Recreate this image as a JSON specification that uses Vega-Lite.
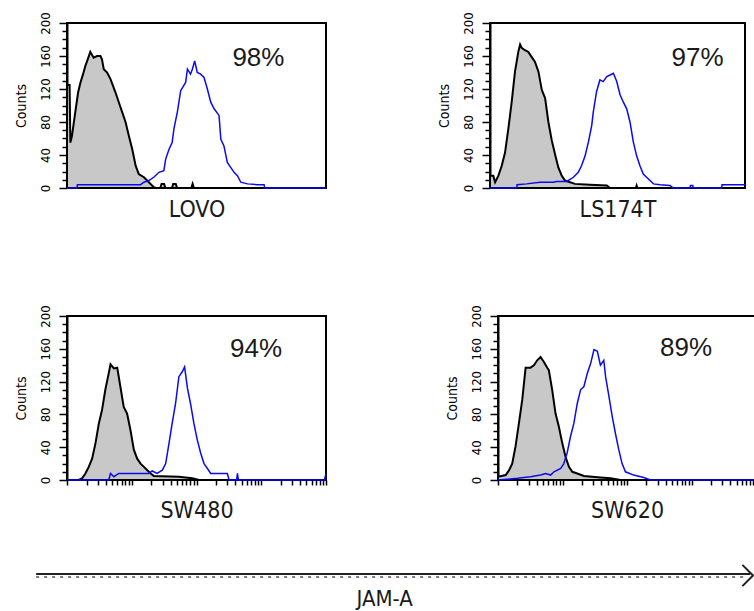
{
"$schema": "https://vega.github.io/schema/vega-lite/v6.json",
"background": "white",
"padding": {"left": 12, "top": 10, "right": 0, "bottom": 0},
"config": {
  "view": {"stroke": "#000", "strokeWidth": 2},
  "axis": {"grid": false, "labelOverlap": false, "labelBound": false, "tickCount": 100,
           "titleFont": "DejaVu Sans Condensed, Liberation Sans", "titleFontWeight": "normal", "labelFont": "DejaVu Sans Condensed, Liberation Sans"},
  "text": {"font": "Liberation Sans"}
},
"datasets": {
 "hist": [
  {"cell":"LOVO","series":"isotype","x":0,"count":125},{"cell":"LOVO","series":"isotype","x":1,"count":125},{"cell":"LOVO","series":"isotype","x":1.3,"count":55},{"cell":"LOVO","series":"isotype","x":1.9,"count":63},{"cell":"LOVO","series":"isotype","x":3.2,"count":92},{"cell":"LOVO","series":"isotype","x":4.3,"count":116},{"cell":"LOVO","series":"isotype","x":5.2,"count":128},{"cell":"LOVO","series":"isotype","x":6.2,"count":138},{"cell":"LOVO","series":"isotype","x":7.1,"count":148},{"cell":"LOVO","series":"isotype","x":8.0,"count":156},{"cell":"LOVO","series":"isotype","x":9.0,"count":165},{"cell":"LOVO","series":"isotype","x":10.3,"count":158},{"cell":"LOVO","series":"isotype","x":11.6,"count":160},{"cell":"LOVO","series":"isotype","x":12.9,"count":160},{"cell":"LOVO","series":"isotype","x":13.5,"count":156},{"cell":"LOVO","series":"isotype","x":14.2,"count":144},{"cell":"LOVO","series":"isotype","x":15.5,"count":140},{"cell":"LOVO","series":"isotype","x":16.8,"count":132},{"cell":"LOVO","series":"isotype","x":18.7,"count":116},{"cell":"LOVO","series":"isotype","x":20.0,"count":104},{"cell":"LOVO","series":"isotype","x":21.3,"count":92},{"cell":"LOVO","series":"isotype","x":22.6,"count":80},{"cell":"LOVO","series":"isotype","x":23.9,"count":63},{"cell":"LOVO","series":"isotype","x":25.2,"count":47},{"cell":"LOVO","series":"isotype","x":26.5,"count":27},{"cell":"LOVO","series":"isotype","x":27.7,"count":17},{"cell":"LOVO","series":"isotype","x":29.7,"count":13},{"cell":"LOVO","series":"isotype","x":31.6,"count":7},{"cell":"LOVO","series":"isotype","x":33.5,"count":1},{"cell":"LOVO","series":"isotype","x":34.5,"count":0},{"cell":"LOVO","series":"isotype","x":36,"count":0},{"cell":"LOVO","series":"isotype","x":36.5,"count":5},{"cell":"LOVO","series":"isotype","x":37.5,"count":5},{"cell":"LOVO","series":"isotype","x":38,"count":0},{"cell":"LOVO","series":"isotype","x":40.5,"count":0},{"cell":"LOVO","series":"isotype","x":41,"count":5},{"cell":"LOVO","series":"isotype","x":42,"count":5},{"cell":"LOVO","series":"isotype","x":42.5,"count":0},{"cell":"LOVO","series":"isotype","x":48,"count":0},{"cell":"LOVO","series":"isotype","x":48.5,"count":5},{"cell":"LOVO","series":"isotype","x":49,"count":0},{"cell":"LOVO","series":"isotype","x":100,"count":0},
  {"cell":"LOVO","series":"JAM-A","x":0,"count":0},{"cell":"LOVO","series":"JAM-A","x":3.9,"count":0},{"cell":"LOVO","series":"JAM-A","x":4.0,"count":4},{"cell":"LOVO","series":"JAM-A","x":28.4,"count":4},{"cell":"LOVO","series":"JAM-A","x":29.7,"count":7},{"cell":"LOVO","series":"JAM-A","x":31.6,"count":9},{"cell":"LOVO","series":"JAM-A","x":33.5,"count":13},{"cell":"LOVO","series":"JAM-A","x":35.5,"count":19},{"cell":"LOVO","series":"JAM-A","x":37.4,"count":21},{"cell":"LOVO","series":"JAM-A","x":38.1,"count":35},{"cell":"LOVO","series":"JAM-A","x":39.4,"count":47},{"cell":"LOVO","series":"JAM-A","x":40.6,"count":55},{"cell":"LOVO","series":"JAM-A","x":41.3,"count":72},{"cell":"LOVO","series":"JAM-A","x":42.6,"count":92},{"cell":"LOVO","series":"JAM-A","x":43.9,"count":118},{"cell":"LOVO","series":"JAM-A","x":45.8,"count":128},{"cell":"LOVO","series":"JAM-A","x":46.5,"count":144},{"cell":"LOVO","series":"JAM-A","x":47.7,"count":138},{"cell":"LOVO","series":"JAM-A","x":48.4,"count":144},{"cell":"LOVO","series":"JAM-A","x":49.3,"count":154},{"cell":"LOVO","series":"JAM-A","x":50.3,"count":140},{"cell":"LOVO","series":"JAM-A","x":51.6,"count":138},{"cell":"LOVO","series":"JAM-A","x":52.9,"count":134},{"cell":"LOVO","series":"JAM-A","x":54.2,"count":120},{"cell":"LOVO","series":"JAM-A","x":55.5,"count":104},{"cell":"LOVO","series":"JAM-A","x":56.8,"count":96},{"cell":"LOVO","series":"JAM-A","x":58.7,"count":88},{"cell":"LOVO","series":"JAM-A","x":59.4,"count":59},{"cell":"LOVO","series":"JAM-A","x":60.6,"count":51},{"cell":"LOVO","series":"JAM-A","x":61.9,"count":31},{"cell":"LOVO","series":"JAM-A","x":63.2,"count":25},{"cell":"LOVO","series":"JAM-A","x":64.5,"count":19},{"cell":"LOVO","series":"JAM-A","x":65.8,"count":15},{"cell":"LOVO","series":"JAM-A","x":67.1,"count":7},{"cell":"LOVO","series":"JAM-A","x":69.7,"count":5},{"cell":"LOVO","series":"JAM-A","x":73.5,"count":4},{"cell":"LOVO","series":"JAM-A","x":76.1,"count":4},{"cell":"LOVO","series":"JAM-A","x":76.3,"count":0},{"cell":"LOVO","series":"JAM-A","x":100,"count":0},
  {"cell":"LS174T","series":"isotype","x":0,"count":15},{"cell":"LS174T","series":"isotype","x":1.3,"count":15},{"cell":"LS174T","series":"isotype","x":2.0,"count":7},{"cell":"LS174T","series":"isotype","x":3.3,"count":15},{"cell":"LS174T","series":"isotype","x":4.6,"count":27},{"cell":"LS174T","series":"isotype","x":5.9,"count":43},{"cell":"LS174T","series":"isotype","x":7.2,"count":72},{"cell":"LS174T","series":"isotype","x":8.5,"count":104},{"cell":"LS174T","series":"isotype","x":9.8,"count":141},{"cell":"LS174T","series":"isotype","x":11.1,"count":165},{"cell":"LS174T","series":"isotype","x":11.8,"count":174},{"cell":"LS174T","series":"isotype","x":12.4,"count":170},{"cell":"LS174T","series":"isotype","x":13.7,"count":167},{"cell":"LS174T","series":"isotype","x":15.0,"count":165},{"cell":"LS174T","series":"isotype","x":16.3,"count":159},{"cell":"LS174T","series":"isotype","x":17.6,"count":153},{"cell":"LS174T","series":"isotype","x":19.0,"count":141},{"cell":"LS174T","series":"isotype","x":20.3,"count":119},{"cell":"LS174T","series":"isotype","x":21.6,"count":109},{"cell":"LS174T","series":"isotype","x":22.9,"count":80},{"cell":"LS174T","series":"isotype","x":24.2,"count":58},{"cell":"LS174T","series":"isotype","x":25.5,"count":41},{"cell":"LS174T","series":"isotype","x":26.8,"count":25},{"cell":"LS174T","series":"isotype","x":28.1,"count":15},{"cell":"LS174T","series":"isotype","x":29.4,"count":9},{"cell":"LS174T","series":"isotype","x":31.4,"count":7},{"cell":"LS174T","series":"isotype","x":33.3,"count":5},{"cell":"LS174T","series":"isotype","x":39.2,"count":4},{"cell":"LS174T","series":"isotype","x":45.8,"count":3},{"cell":"LS174T","series":"isotype","x":47.1,"count":0},{"cell":"LS174T","series":"isotype","x":57.2,"count":0},{"cell":"LS174T","series":"isotype","x":57.5,"count":3},{"cell":"LS174T","series":"isotype","x":57.8,"count":0},{"cell":"LS174T","series":"isotype","x":100,"count":0},
  {"cell":"LS174T","series":"JAM-A","x":0,"count":0},{"cell":"LS174T","series":"JAM-A","x":10.5,"count":0},{"cell":"LS174T","series":"JAM-A","x":10.6,"count":4},{"cell":"LS174T","series":"JAM-A","x":14.4,"count":5},{"cell":"LS174T","series":"JAM-A","x":19.6,"count":7},{"cell":"LS174T","series":"JAM-A","x":24.8,"count":7},{"cell":"LS174T","series":"JAM-A","x":26.1,"count":8},{"cell":"LS174T","series":"JAM-A","x":30.1,"count":8},{"cell":"LS174T","series":"JAM-A","x":32.7,"count":13},{"cell":"LS174T","series":"JAM-A","x":34.6,"count":19},{"cell":"LS174T","series":"JAM-A","x":35.9,"count":27},{"cell":"LS174T","series":"JAM-A","x":37.3,"count":39},{"cell":"LS174T","series":"JAM-A","x":38.6,"count":56},{"cell":"LS174T","series":"JAM-A","x":39.9,"count":76},{"cell":"LS174T","series":"JAM-A","x":40.5,"count":92},{"cell":"LS174T","series":"JAM-A","x":41.8,"count":117},{"cell":"LS174T","series":"JAM-A","x":43.1,"count":131},{"cell":"LS174T","series":"JAM-A","x":44.4,"count":129},{"cell":"LS174T","series":"JAM-A","x":45.8,"count":135},{"cell":"LS174T","series":"JAM-A","x":47.1,"count":137},{"cell":"LS174T","series":"JAM-A","x":48.4,"count":139},{"cell":"LS174T","series":"JAM-A","x":49.7,"count":129},{"cell":"LS174T","series":"JAM-A","x":51.0,"count":113},{"cell":"LS174T","series":"JAM-A","x":52.3,"count":104},{"cell":"LS174T","series":"JAM-A","x":53.6,"count":96},{"cell":"LS174T","series":"JAM-A","x":54.9,"count":80},{"cell":"LS174T","series":"JAM-A","x":56.2,"count":56},{"cell":"LS174T","series":"JAM-A","x":57.5,"count":39},{"cell":"LS174T","series":"JAM-A","x":58.8,"count":27},{"cell":"LS174T","series":"JAM-A","x":60.1,"count":17},{"cell":"LS174T","series":"JAM-A","x":61.4,"count":13},{"cell":"LS174T","series":"JAM-A","x":64.1,"count":5},{"cell":"LS174T","series":"JAM-A","x":66.7,"count":4},{"cell":"LS174T","series":"JAM-A","x":70.6,"count":3},{"cell":"LS174T","series":"JAM-A","x":71.9,"count":0},{"cell":"LS174T","series":"JAM-A","x":78.4,"count":0},{"cell":"LS174T","series":"JAM-A","x":78.6,"count":3},{"cell":"LS174T","series":"JAM-A","x":79.5,"count":3},{"cell":"LS174T","series":"JAM-A","x":79.7,"count":0},{"cell":"LS174T","series":"JAM-A","x":90.8,"count":0},{"cell":"LS174T","series":"JAM-A","x":91,"count":4},{"cell":"LS174T","series":"JAM-A","x":100,"count":4},
  {"cell":"SW480","series":"isotype","x":0,"count":0},{"cell":"SW480","series":"isotype","x":4.5,"count":0},{"cell":"SW480","series":"isotype","x":5.8,"count":2},{"cell":"SW480","series":"isotype","x":7.1,"count":8},{"cell":"SW480","series":"isotype","x":8.4,"count":16},{"cell":"SW480","series":"isotype","x":9.7,"count":26},{"cell":"SW480","series":"isotype","x":11.0,"count":45},{"cell":"SW480","series":"isotype","x":12.3,"count":69},{"cell":"SW480","series":"isotype","x":13.5,"count":85},{"cell":"SW480","series":"isotype","x":14.8,"count":110},{"cell":"SW480","series":"isotype","x":16.1,"count":130},{"cell":"SW480","series":"isotype","x":16.8,"count":141},{"cell":"SW480","series":"isotype","x":18.1,"count":136},{"cell":"SW480","series":"isotype","x":19.4,"count":137},{"cell":"SW480","series":"isotype","x":20.6,"count":114},{"cell":"SW480","series":"isotype","x":21.9,"count":89},{"cell":"SW480","series":"isotype","x":23.2,"count":81},{"cell":"SW480","series":"isotype","x":24.5,"count":61},{"cell":"SW480","series":"isotype","x":25.8,"count":37},{"cell":"SW480","series":"isotype","x":27.1,"count":26},{"cell":"SW480","series":"isotype","x":28.4,"count":20},{"cell":"SW480","series":"isotype","x":29.7,"count":16},{"cell":"SW480","series":"isotype","x":31.0,"count":12},{"cell":"SW480","series":"isotype","x":32.3,"count":8},{"cell":"SW480","series":"isotype","x":33.5,"count":5},{"cell":"SW480","series":"isotype","x":43.2,"count":4},{"cell":"SW480","series":"isotype","x":48.4,"count":2},{"cell":"SW480","series":"isotype","x":51,"count":0},{"cell":"SW480","series":"isotype","x":100,"count":0},
  {"cell":"SW480","series":"JAM-A","x":0,"count":0},{"cell":"SW480","series":"JAM-A","x":16.1,"count":0},{"cell":"SW480","series":"JAM-A","x":16.8,"count":8},{"cell":"SW480","series":"JAM-A","x":18.1,"count":4},{"cell":"SW480","series":"JAM-A","x":20.0,"count":8},{"cell":"SW480","series":"JAM-A","x":31.6,"count":8},{"cell":"SW480","series":"JAM-A","x":32.9,"count":11},{"cell":"SW480","series":"JAM-A","x":34.8,"count":8},{"cell":"SW480","series":"JAM-A","x":36.8,"count":12},{"cell":"SW480","series":"JAM-A","x":38.1,"count":20},{"cell":"SW480","series":"JAM-A","x":39.4,"count":45},{"cell":"SW480","series":"JAM-A","x":40.6,"count":69},{"cell":"SW480","series":"JAM-A","x":41.9,"count":93},{"cell":"SW480","series":"JAM-A","x":43.2,"count":126},{"cell":"SW480","series":"JAM-A","x":44.5,"count":132},{"cell":"SW480","series":"JAM-A","x":45.4,"count":138},{"cell":"SW480","series":"JAM-A","x":46.5,"count":112},{"cell":"SW480","series":"JAM-A","x":47.7,"count":93},{"cell":"SW480","series":"JAM-A","x":49.0,"count":69},{"cell":"SW480","series":"JAM-A","x":50.3,"count":49},{"cell":"SW480","series":"JAM-A","x":51.6,"count":33},{"cell":"SW480","series":"JAM-A","x":52.9,"count":20},{"cell":"SW480","series":"JAM-A","x":54.2,"count":14},{"cell":"SW480","series":"JAM-A","x":55.5,"count":8},{"cell":"SW480","series":"JAM-A","x":61.9,"count":8},{"cell":"SW480","series":"JAM-A","x":62.6,"count":0},{"cell":"SW480","series":"JAM-A","x":65.5,"count":0},{"cell":"SW480","series":"JAM-A","x":65.8,"count":8},{"cell":"SW480","series":"JAM-A","x":66.2,"count":0},{"cell":"SW480","series":"JAM-A","x":99.4,"count":0},{"cell":"SW480","series":"JAM-A","x":100,"count":8},
  {"cell":"SW620","series":"isotype","x":0,"count":4},{"cell":"SW620","series":"isotype","x":3.0,"count":6},{"cell":"SW620","series":"isotype","x":4.3,"count":12},{"cell":"SW620","series":"isotype","x":5.5,"count":20},{"cell":"SW620","series":"isotype","x":6.8,"count":41},{"cell":"SW620","series":"isotype","x":8.1,"count":69},{"cell":"SW620","series":"isotype","x":9.4,"count":98},{"cell":"SW620","series":"isotype","x":10.7,"count":137},{"cell":"SW620","series":"isotype","x":12.6,"count":137},{"cell":"SW620","series":"isotype","x":13.9,"count":140},{"cell":"SW620","series":"isotype","x":15.2,"count":146},{"cell":"SW620","series":"isotype","x":16.5,"count":150},{"cell":"SW620","series":"isotype","x":17.8,"count":144},{"cell":"SW620","series":"isotype","x":19.1,"count":137},{"cell":"SW620","series":"isotype","x":19.7,"count":134},{"cell":"SW620","series":"isotype","x":21.0,"count":110},{"cell":"SW620","series":"isotype","x":22.3,"count":81},{"cell":"SW620","series":"isotype","x":23.6,"count":65},{"cell":"SW620","series":"isotype","x":24.9,"count":45},{"cell":"SW620","series":"isotype","x":26.2,"count":28},{"cell":"SW620","series":"isotype","x":27.5,"count":16},{"cell":"SW620","series":"isotype","x":28.8,"count":10},{"cell":"SW620","series":"isotype","x":30.7,"count":8},{"cell":"SW620","series":"isotype","x":33.3,"count":5},{"cell":"SW620","series":"isotype","x":39.7,"count":3},{"cell":"SW620","series":"isotype","x":43.6,"count":2},{"cell":"SW620","series":"isotype","x":47.5,"count":0},{"cell":"SW620","series":"isotype","x":100,"count":0},
  {"cell":"SW620","series":"JAM-A","x":0,"count":0},{"cell":"SW620","series":"JAM-A","x":7.5,"count":2},{"cell":"SW620","series":"JAM-A","x":12.6,"count":4},{"cell":"SW620","series":"JAM-A","x":16.5,"count":6},{"cell":"SW620","series":"JAM-A","x":18.5,"count":8},{"cell":"SW620","series":"JAM-A","x":20.4,"count":6},{"cell":"SW620","series":"JAM-A","x":21.7,"count":10},{"cell":"SW620","series":"JAM-A","x":24.3,"count":14},{"cell":"SW620","series":"JAM-A","x":25.5,"count":20},{"cell":"SW620","series":"JAM-A","x":26.8,"count":33},{"cell":"SW620","series":"JAM-A","x":28.1,"count":53},{"cell":"SW620","series":"JAM-A","x":29.4,"count":69},{"cell":"SW620","series":"JAM-A","x":30.7,"count":93},{"cell":"SW620","series":"JAM-A","x":32.0,"count":110},{"cell":"SW620","series":"JAM-A","x":33.3,"count":114},{"cell":"SW620","series":"JAM-A","x":34.6,"count":130},{"cell":"SW620","series":"JAM-A","x":35.9,"count":142},{"cell":"SW620","series":"JAM-A","x":37.2,"count":159},{"cell":"SW620","series":"JAM-A","x":38.5,"count":157},{"cell":"SW620","series":"JAM-A","x":39.7,"count":140},{"cell":"SW620","series":"JAM-A","x":41.0,"count":146},{"cell":"SW620","series":"JAM-A","x":41.7,"count":126},{"cell":"SW620","series":"JAM-A","x":43.0,"count":102},{"cell":"SW620","series":"JAM-A","x":44.3,"count":77},{"cell":"SW620","series":"JAM-A","x":45.5,"count":57},{"cell":"SW620","series":"JAM-A","x":46.8,"count":37},{"cell":"SW620","series":"JAM-A","x":48.1,"count":20},{"cell":"SW620","series":"JAM-A","x":49.4,"count":10},{"cell":"SW620","series":"JAM-A","x":52.6,"count":6},{"cell":"SW620","series":"JAM-A","x":56.5,"count":3},{"cell":"SW620","series":"JAM-A","x":59.1,"count":0},{"cell":"SW620","series":"JAM-A","x":100,"count":0}
 ],
 "pct": [
  {"cell":"LOVO","pct":"98%"},{"cell":"LS174T","pct":"97%"},{"cell":"SW480","pct":"94%"},{"cell":"SW620","pct":"89%"}
 ]
},
"vconcat": [
 {
  "vconcat": [
   {
    "hconcat": [
     {
      "width": 259, "height": 165,
      "layer": [
       {"data": {"name": "hist"}, "transform": [{"filter": "datum.cell === 'LOVO' && datum.series === 'isotype'"}],
        "mark": {"type": "area", "fill": "#c8c8c8", "stroke": "#000", "strokeWidth": 2},
        "encoding": {
         "x": {"field": "x", "type": "quantitative", "scale": {"domain": [0, 100], "nice": false, "zero": false},
               "axis": {"title": "LOVO", "labels": false, "ticks": false, "domain": false, "titleFontSize": 23, "titleColor": "#1a1a1a", "titlePadding": 10}},
         "y": {"field": "count", "type": "quantitative", "scale": {"domain": [0, 200], "nice": false},
               "axis": {"title": "Counts", "values": [0,10,20,30,40,50,60,70,80,90,100,110,120,130,140,150,160,170,180,190,200], "labelExpr": "datum.value % 40 === 0 ? datum.label : ''", "tickSize": {"condition": {"test": "datum.value % 40 === 0", "value": 8}, "value": 5}, "labelAngle": -90, "labelFontSize": 13, "labelColor": "#000", "labelPadding": 7, "titleFontSize": 14, "titleColor": "#000", "titlePadding": 11, "domainColor": "#000", "domainWidth": 2, "tickColor": "#000", "tickWidth": 1.5}}
        }},
       {"data": {"name": "hist"}, "transform": [{"filter": "datum.cell === 'LOVO' && datum.series === 'JAM-A'"}],
        "mark": {"type": "line", "color": "#0a0af0", "strokeWidth": 1.5},
        "encoding": {"x": {"field": "x", "type": "quantitative"}, "y": {"field": "count", "type": "quantitative"}}},
       {"data": {"name": "pct"}, "transform": [{"filter": "datum.cell === 'LOVO'"}],
        "mark": {"type": "text", "fontSize": 26, "color": "#1a1a1a", "align": "center", "baseline": "middle"},
        "encoding": {"x": {"datum": 73.9}, "y": {"datum": 158}, "text": {"field": "pct"}}}
      ]
     },
     {
      "width": 255, "height": 165,
      "layer": [
       {"data": {"name": "hist"}, "transform": [{"filter": "datum.cell === 'LS174T' && datum.series === 'isotype'"}],
        "mark": {"type": "area", "fill": "#c8c8c8", "stroke": "#000", "strokeWidth": 2},
        "encoding": {
         "x": {"field": "x", "type": "quantitative", "scale": {"domain": [0, 100], "nice": false, "zero": false},
               "axis": {"title": "LS174T", "labels": false, "ticks": false, "domain": false, "titleFontSize": 23, "titleColor": "#1a1a1a", "titlePadding": 10}},
         "y": {"field": "count", "type": "quantitative", "scale": {"domain": [0, 200], "nice": false},
               "axis": {"title": "Counts", "values": [0,10,20,30,40,50,60,70,80,90,100,110,120,130,140,150,160,170,180,190,200], "labelExpr": "datum.value % 40 === 0 ? datum.label : ''", "tickSize": {"condition": {"test": "datum.value % 40 === 0", "value": 8}, "value": 5}, "labelAngle": -90, "labelFontSize": 13, "labelColor": "#000", "labelPadding": 7, "titleFontSize": 14, "titleColor": "#000", "titlePadding": 11, "domainColor": "#000", "domainWidth": 2, "tickColor": "#000", "tickWidth": 1.5}}
        }},
       {"data": {"name": "hist"}, "transform": [{"filter": "datum.cell === 'LS174T' && datum.series === 'JAM-A'"}],
        "mark": {"type": "line", "color": "#0a0af0", "strokeWidth": 1.5},
        "encoding": {"x": {"field": "x", "type": "quantitative"}, "y": {"field": "count", "type": "quantitative"}}},
       {"data": {"name": "pct"}, "transform": [{"filter": "datum.cell === 'LS174T'"}],
        "mark": {"type": "text", "fontSize": 26, "color": "#1a1a1a", "align": "center", "baseline": "middle"},
        "encoding": {"x": {"datum": 81.4}, "y": {"datum": 158}, "text": {"field": "pct"}}}
      ]
     }
    ],
    "spacing": 104
   },
   {
    "hconcat": [
     {
      "width": 259, "height": 164,
      "layer": [
       {"data": {"name": "hist"}, "transform": [{"filter": "datum.cell === 'SW480' && datum.series === 'isotype'"}],
        "mark": {"type": "area", "fill": "#c8c8c8", "stroke": "#000", "strokeWidth": 2},
        "encoding": {
         "x": {"field": "x", "type": "quantitative", "scale": {"domain": [0, 100], "nice": false, "zero": false},
               "axis": {"title": "SW480", "labels": false, "values": [0,7.53,11.93,15.05,17.47,19.45,21.13,22.58,23.86,25,32.53,36.93,40.05,42.47,44.45,46.13,47.58,48.86,50,57.53,61.93,65.05,67.47,69.45,71.13,72.58,73.86,75,82.53,86.93,90.05,92.47,94.45,96.13,97.58,98.86,100], "tickSize": 5, "tickColor": "#000", "tickWidth": 1.5, "domain": false, "titleFontSize": 23, "titleColor": "#1a1a1a", "titlePadding": 14}},
         "y": {"field": "count", "type": "quantitative", "scale": {"domain": [0, 200], "nice": false},
               "axis": {"title": "Counts", "values": [0,10,20,30,40,50,60,70,80,90,100,110,120,130,140,150,160,170,180,190,200], "labelExpr": "datum.value % 40 === 0 ? datum.label : ''", "tickSize": {"condition": {"test": "datum.value % 40 === 0", "value": 8}, "value": 5}, "labelAngle": -90, "labelFontSize": 13, "labelColor": "#000", "labelPadding": 7, "titleFontSize": 14, "titleColor": "#000", "titlePadding": 11, "domainColor": "#000", "domainWidth": 2, "tickColor": "#000", "tickWidth": 1.5}}
        }},
       {"data": {"name": "hist"}, "transform": [{"filter": "datum.cell === 'SW480' && datum.series === 'JAM-A'"}],
        "mark": {"type": "line", "color": "#0a0af0", "strokeWidth": 1.5},
        "encoding": {"x": {"field": "x", "type": "quantitative"}, "y": {"field": "count", "type": "quantitative"}}},
       {"data": {"name": "pct"}, "transform": [{"filter": "datum.cell === 'SW480'"}],
        "mark": {"type": "text", "fontSize": 26, "color": "#1a1a1a", "align": "center", "baseline": "middle"},
        "encoding": {"x": {"datum": 73.0}, "y": {"datum": 160}, "text": {"field": "pct"}}}
      ]
     },
     {
      "width": 258, "height": 164,
      "layer": [
       {"data": {"name": "hist"}, "transform": [{"filter": "datum.cell === 'SW620' && datum.series === 'isotype'"}],
        "mark": {"type": "area", "fill": "#c8c8c8", "stroke": "#000", "strokeWidth": 2},
        "encoding": {
         "x": {"field": "x", "type": "quantitative", "scale": {"domain": [0, 100], "nice": false, "zero": false},
               "axis": {"title": "SW620", "labels": false, "values": [0,7.53,11.93,15.05,17.47,19.45,21.13,22.58,23.86,25,32.53,36.93,40.05,42.47,44.45,46.13,47.58,48.86,50,57.53,61.93,65.05,67.47,69.45,71.13,72.58,73.86,75,82.53,86.93,90.05,92.47,94.45,96.13,97.58,98.86,100], "tickSize": 5, "tickColor": "#000", "tickWidth": 1.5, "domain": false, "titleFontSize": 23, "titleColor": "#1a1a1a", "titlePadding": 14}},
         "y": {"field": "count", "type": "quantitative", "scale": {"domain": [0, 200], "nice": false},
               "axis": {"title": "Counts", "values": [0,10,20,30,40,50,60,70,80,90,100,110,120,130,140,150,160,170,180,190,200], "labelExpr": "datum.value % 40 === 0 ? datum.label : ''", "tickSize": {"condition": {"test": "datum.value % 40 === 0", "value": 8}, "value": 5}, "labelAngle": -90, "labelFontSize": 13, "labelColor": "#000", "labelPadding": 7, "titleFontSize": 14, "titleColor": "#000", "titlePadding": 11, "domainColor": "#000", "domainWidth": 2, "tickColor": "#000", "tickWidth": 1.5}}
        }},
       {"data": {"name": "hist"}, "transform": [{"filter": "datum.cell === 'SW620' && datum.series === 'JAM-A'"}],
        "mark": {"type": "line", "color": "#0a0af0", "strokeWidth": 1.5},
        "encoding": {"x": {"field": "x", "type": "quantitative"}, "y": {"field": "count", "type": "quantitative"}}},
       {"data": {"name": "pct"}, "transform": [{"filter": "datum.cell === 'SW620'"}],
        "mark": {"type": "text", "fontSize": 26, "color": "#1a1a1a", "align": "center", "baseline": "middle"},
        "encoding": {"x": {"datum": 72.9}, "y": {"datum": 161}, "text": {"field": "pct"}}}
      ]
     }
    ],
    "spacing": 112
   }
  ],
  "spacing": 81
 },
 {
  "width": 686, "height": 3,
  "view": {"stroke": null},
  "data": {"values": [{"label": "JAM-A"}]},
  "layer": [
   {"mark": {"type": "rule", "color": "#222", "strokeWidth": 2},
    "encoding": {"x": {"datum": -4.5, "type": "quantitative", "scale": {"domain": [0, 100], "nice": false, "zero": false}, "axis": null},
                 "x2": {"datum": 99.6},
                 "y": {"datum": 1, "type": "quantitative", "scale": {"domain": [0, 1], "nice": false}, "axis": null}}},
   {"mark": {"type": "rule", "color": "#555", "strokeWidth": 1.5, "strokeDash": [3, 5]},
    "encoding": {"x": {"datum": -4.5, "type": "quantitative"}, "x2": {"datum": 99}, "y": {"datum": 0, "type": "quantitative"}}},
   {"mark": {"type": "point", "shape": "M-1,-1L0,0L-1,1", "filled": false, "stroke": "#222", "strokeWidth": 2, "size": 450, "opacity": 1},
    "encoding": {"x": {"datum": 100, "type": "quantitative"}, "y": {"datum": 0.5, "type": "quantitative"}}},
   {"mark": {"type": "text", "font": "DejaVu Sans Condensed, Liberation Sans", "fontSize": 22, "color": "#1a1a1a", "align": "center", "baseline": "middle"},
    "encoding": {"x": {"datum": 46.3, "type": "quantitative"}, "y": {"datum": -7.2, "type": "quantitative"}, "text": {"field": "label"}}}
  ]
 }
],
"spacing": 36
}
